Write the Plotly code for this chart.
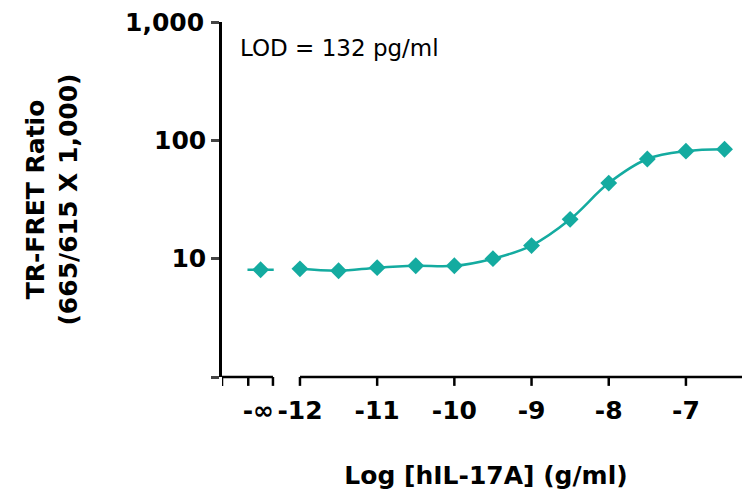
import plotly.graph_objects as go

# data
log_conc = [-12.0, -11.5, -11.0, -10.5, -10.0, -9.5, -9.0, -8.5, -8.0, -7.5, -7.0, -6.5]
ratio = [8.2, 7.9, 8.4, 8.7, 8.7, 10.0, 12.9, 21.5, 43.5, 69.5, 81.0, 84.0]
blank_x = -12.51   # position used for "-inf" (no analyte)
blank_ratio = 8.06
tick_vals = [-12.54, -12, -11, -10, -9, -8, -7]
tick_text = ['-\u221e', '-12', '-11', '-10', '-9', '-8', '-7']

teal = '#14aba0'
font = 'DejaVu Sans, sans-serif'

fig = go.Figure()

fig.add_trace(go.Scatter(
    x=log_conc, y=ratio, mode='lines+markers', line_shape='spline',
    line=dict(color=teal, width=2.5),
    marker=dict(symbol='diamond', size=13, color=teal),
))
fig.add_trace(go.Scatter(
    x=[blank_x], y=[blank_ratio], mode='markers',
    marker=dict(symbol='diamond', size=13, color=teal),
))
# short stub line through the blank point
fig.add_trace(go.Scatter(
    x=[blank_x - 0.17, blank_x + 0.17], y=[blank_ratio, blank_ratio], mode='lines',
    line=dict(color=teal, width=2.5),
))

# broken x axis drawn by hand
ax = dict(type='line', xref='x', yref='paper', line=dict(color='black', width=2.5))
fig.add_shape(ax, x0=-13.13, x1=-12.35, y0=0, y1=0)
fig.add_shape(ax, x0=-12.0, x1=-6.0, y0=0, y1=0)
for t in [-13.01, -12.67, -12.35, -12, -11, -10, -9, -8, -7]:
    fig.add_shape(ax, x0=t, x1=t, y0=0, y1=-0.025)

fig.add_annotation(x=0.03, y=0.97, xref='paper', yref='paper', xanchor='left',
                   yanchor='top', text='LOD = 132 pg/ml', showarrow=False,
                   font=dict(size=23, color='black', family=font))
# top tick label would be dropped at the paper edge, so place it by hand
fig.add_annotation(x=0, y=3, xref='paper', yref='y', xanchor='right', xshift=-16,
                   text='<b>1,000</b>', showarrow=False,
                   font=dict(size=25, color='black', family=font))

# page has an 8px body margin, so the figure is offset by 8px
fig.update_layout(
    width=742, height=493,
    margin=dict(l=214, r=0, t=14, b=124),
    plot_bgcolor='white', paper_bgcolor='white',
    showlegend=False,
    font=dict(family=font, color='black'),
    xaxis=dict(
        range=[-13.01, -6.17], showline=False, showgrid=False, zeroline=False,
        automargin=False,
        tickvals=tick_vals, ticktext=tick_text, ticks='', ticklabelstandoff=16,
        tickfont=dict(size=25, family=font, weight='bold'),
        title=dict(text='<b>Log [hIL-17A] (g/ml)</b>', font=dict(size=25), standoff=42),
    ),
    yaxis=dict(
        type='log', range=[0, 3], showline=True, linecolor='black', linewidth=2.5,
        automargin=False,
        showgrid=False, zeroline=False, ticks='outside', ticklen=8, tickwidth=2.5,
        tickvals=[1, 10, 100, 1000], ticktext=['', '10', '100', ''],
        tickfont=dict(size=25, family=font, weight='bold'),
        title=dict(text='<b>TR-FRET Ratio<br>(665/615 X 1,000)</b>', font=dict(size=25), standoff=70),
    ),
)

fig.write_html('out.html')
